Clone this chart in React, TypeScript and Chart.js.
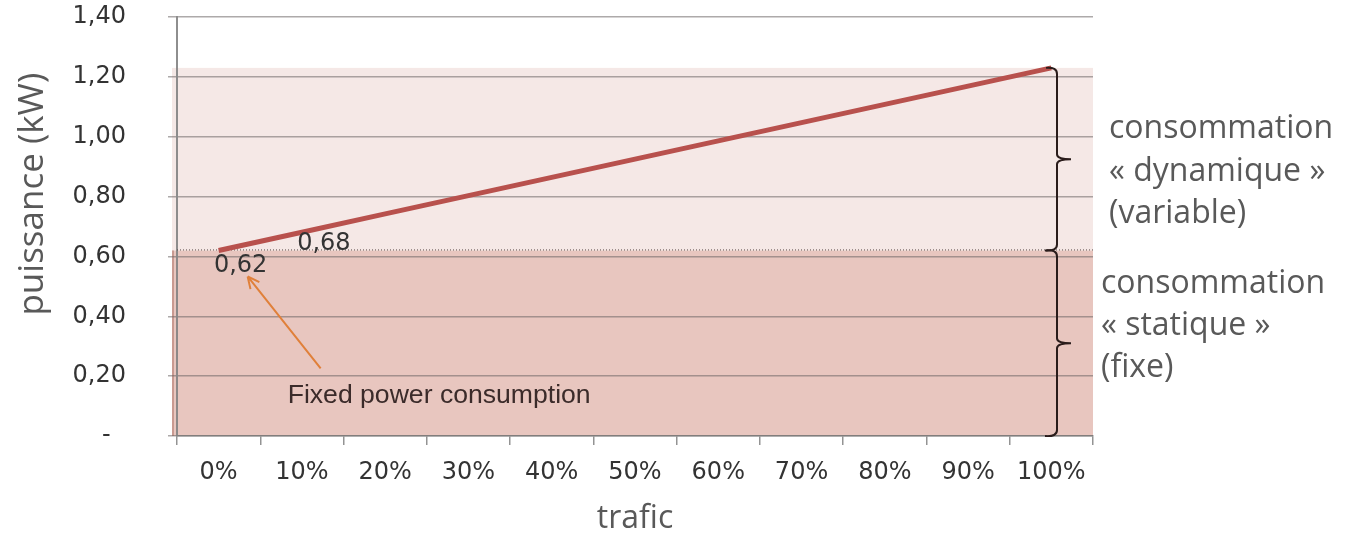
import React, { useEffect, useRef } from "react";
import { Chart, registerables } from "chart.js";

Chart.register(...registerables);

// Traffic load categories on the x axis
const categories = ["0%", "10%", "20%", "30%", "40%", "50%", "60%", "70%", "80%", "90%", "100%"];
// Power draw (kW) at each traffic level
const puissance = [0.62, 0.681, 0.742, 0.803, 0.864, 0.925, 0.986, 1.047, 1.108, 1.169, 1.23];
// Y tick labels (value 0 shown as a dash)
const yTickValues = [0, 0.2, 0.4, 0.6, 0.8, 1.0, 1.2, 1.4];
const yTickLabels = ["-  ", "0,20", "0,40", "0,60", "0,80", "1,00", "1,20", "1,40"];
// Fixed (static) consumption level in kW
const staticLevel = 0.62;
// Points whose value is printed next to the line
const labelledIndices = [0, 1];

const dynamicText = ["consommation", "« dynamique »", "(variable)"];
const staticText = ["consommation", "« statique »", "(fixe)"];
const arrowText = "Fixed power consumption";
const yTitle = "puissance (kW)";
const xTitle = "trafic";

const fmt = (v: number) => v.toFixed(2).replace(".", ",");

function drawBrace(ctx: CanvasRenderingContext2D, x: number, top: number, bottom: number) {
  const mid = (top + bottom) / 2;
  ctx.beginPath();
  ctx.moveTo(x - 11, top);
  ctx.quadraticCurveTo(x, top - 1, x, top + 6);
  ctx.lineTo(x, mid - 5);
  ctx.quadraticCurveTo(x, mid, x + 14, mid);
  ctx.moveTo(x + 14, mid);
  ctx.quadraticCurveTo(x, mid, x, mid + 5);
  ctx.lineTo(x, bottom - 6);
  ctx.quadraticCurveTo(x, bottom + 1, x - 12, bottom);
  ctx.stroke();
}

const bandsPlugin = {
  id: "bands",
  beforeDraw(chart: any) {
    const { ctx, chartArea, scales } = chart;
    const y = scales.y;
    const top = y.getPixelForValue(puissance[puissance.length - 1]);
    const mid = y.getPixelForValue(staticLevel);
    const bot = y.getPixelForValue(0);
    ctx.save();
    ctx.fillStyle = "#ffffff";
    ctx.fillRect(0, 0, chart.width, chart.height);
    ctx.fillStyle = "#f5e8e6";
    ctx.fillRect(chartArea.left - 5, top, chartArea.right - chartArea.left + 5, mid - top);
    ctx.fillStyle = "#e8c6bf";
    ctx.fillRect(chartArea.left - 5, mid, chartArea.right - chartArea.left + 5, bot - mid);
    ctx.fillStyle = "rgba(170,110,100,0.5)";
    ctx.fillRect(chartArea.left - 5, mid, 2, bot - mid);
    ctx.restore();
  },
  beforeDatasetsDraw(chart: any) {
    const { ctx, chartArea, scales } = chart;
    const mid = scales.y.getPixelForValue(staticLevel);
    ctx.save();
    ctx.strokeStyle = "#5a4a48";
    ctx.lineWidth = 1;
    ctx.setLineDash([1, 2]);
    ctx.beginPath();
    ctx.moveTo(chartArea.left, mid - 0.5);
    ctx.lineTo(chartArea.right, mid - 0.5);
    ctx.stroke();
    ctx.restore();
  },
};

const annotationsPlugin = {
  id: "annotations",
  afterDatasetsDraw(chart: any) {
    const { ctx, chartArea, scales } = chart;
    const y = scales.y;
    const meta = chart.getDatasetMeta(0);
    ctx.save();

    // value labels on the first points
    ctx.font = '24px "DejaVu Sans"';
    ctx.fillStyle = "#333333";
    ctx.textAlign = "center";
    ctx.textBaseline = "middle";
    labelledIndices.forEach((i, k) => {
      const p = meta.data[i];
      const dy = k === 0 ? 15 : 12;
      ctx.fillText(fmt(puissance[i]), p.x + 22, p.y + dy);
    });

    // arrow pointing at the fixed level label
    const p0 = meta.data[0];
    const tipX = p0.x + 29;
    const tipY = p0.y + 26;
    const tailX = p0.x + 102;
    const tailY = p0.y + 118;
    ctx.strokeStyle = "#e0803a";
    ctx.lineWidth = 2;
    ctx.beginPath();
    ctx.moveTo(tailX, tailY);
    ctx.lineTo(tipX, tipY);
    const ang = Math.atan2(tipY - tailY, tipX - tailX);
    const hl = 13;
    ctx.moveTo(tipX, tipY);
    ctx.lineTo(tipX - hl * Math.cos(ang - 0.45), tipY - hl * Math.sin(ang - 0.45));
    ctx.moveTo(tipX, tipY);
    ctx.lineTo(tipX - hl * Math.cos(ang + 0.45), tipY - hl * Math.sin(ang + 0.45));
    ctx.stroke();

    ctx.font = '26.6px "Liberation Sans"';
    ctx.fillStyle = "#3b2b2a";
    ctx.textAlign = "left";
    ctx.fillText(arrowText, p0.x + 69, p0.y + 145);

    // braces on the right side
    const top = y.getPixelForValue(puissance[puissance.length - 1]);
    const mid = y.getPixelForValue(staticLevel);
    const bot = y.getPixelForValue(0);
    const bx = chartArea.right - 36;
    ctx.strokeStyle = "#2a1c1b";
    ctx.lineWidth = 2;
    drawBrace(ctx, bx, top, mid);
    drawBrace(ctx, bx, mid, bot);

    // side descriptions
    ctx.font = '32px "Open Sans"';
    ctx.fillStyle = "#595959";
    ctx.textBaseline = "alphabetic";
    const dynX = chartArea.right + 16;
    dynamicText.forEach((t, i) => ctx.fillText(t, dynX, 138 + i * 42.5));
    const stX = chartArea.right + 8;
    staticText.forEach((t, i) => ctx.fillText(t, stX, 293 + i * 42));

    // y axis title
    ctx.save();
    ctx.translate(33, (top + mid) / 2 + 35);
    ctx.rotate(-Math.PI / 2);
    ctx.font = '35px "Open Sans"';
    ctx.textAlign = "center";
    ctx.textBaseline = "middle";
    ctx.fillText(yTitle, 0, 0);
    ctx.restore();

    ctx.restore();
  },
};

export default function App() {
  const canvasRef = useRef<HTMLCanvasElement | null>(null);

  useEffect(() => {
    if (!canvasRef.current) return;
    const gridColor = "rgba(105,100,100,0.55)";
    const chart = new Chart(canvasRef.current, {
      type: "line",
      data: {
        labels: categories,
        datasets: [
          {
            data: puissance,
            borderColor: "#b8514d",
            borderWidth: 5,
            pointRadius: 0,
            tension: 0,
            fill: false,
          },
        ],
      },
      options: {
        responsive: false,
        animation: false,
        events: [],
        layout: { padding: { top: 17, right: 254, left: 0, bottom: 0 } },
        plugins: {
          legend: { display: false },
          tooltip: { enabled: false },
        },
        scales: {
          x: {
            type: "category",
            offset: true,
            grid: {
              offset: true,
              drawOnChartArea: false,
              drawTicks: true,
              tickLength: 9,
              color: "rgba(120,120,120,0.8)",
              lineWidth: 1.5,
            },
            border: { display: true, color: "rgba(120,120,120,0.8)", width: 1.5 },
            ticks: {
              autoSkip: false,
              maxRotation: 0,
              padding: 13,
              color: "#333333",
              font: { family: "DejaVu Sans", size: 24 },
            },
            title: {
              display: true,
              text: xTitle,
              color: "#595959",
              font: { family: "Open Sans", size: 32, lineHeight: 1 },
              padding: { top: 0, bottom: 0 },
            },
            afterFit(scale: any) {
              scale.height = 99;
            },
          },
          y: {
            type: "linear",
            min: 0,
            max: 1.4,
            afterBuildTicks(scale: any) {
              scale.ticks = yTickValues.map((v) => ({ value: v }));
            },
            grid: {
              color: gridColor,
              lineWidth: 1.5,
              tickLength: 9,
            },
            border: { display: true, color: "rgba(130,130,130,0.9)", width: 2 },
            ticks: {
              padding: 42,
              color: "#333333",
              font: { family: "DejaVu Sans", size: 24 },
              callback: (value: any) => {
                const idx = yTickValues.findIndex((v) => Math.abs(v - Number(value)) < 1e-6);
                return idx >= 0 ? yTickLabels[idx] : "";
              },
            },
            afterFit(scale: any) {
              scale.width = 177;
              scale.paddingTop = 0;
              scale.paddingBottom = 0;
            },
          },
        },
      },
      plugins: [bandsPlugin, annotationsPlugin],
    });
    return () => chart.destroy();
  }, []);

  return (
    <div style={{ position: "fixed", left: 0, top: 0, width: 1347, height: 535, background: "#fff" }}>
      <canvas ref={canvasRef} width={1347} height={535} style={{ display: "block" }} />
    </div>
  );
}
